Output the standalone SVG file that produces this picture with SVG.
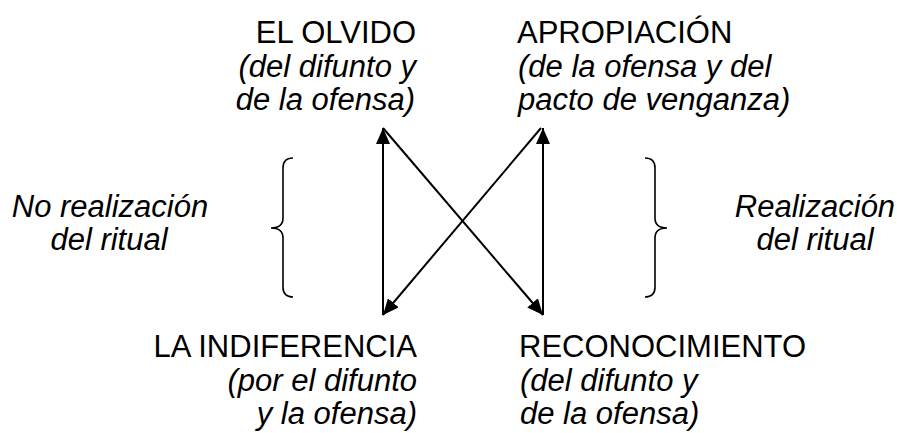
<svg xmlns="http://www.w3.org/2000/svg" width="897" height="433" viewBox="0 0 897 433">
<defs>
<style>
.t{font-family:"Liberation Sans",Arial,sans-serif;font-size:31px;fill:#000}
.i{font-style:italic}
.e{text-anchor:end}
.m{text-anchor:middle}
.ln{stroke:#000;stroke-width:2;fill:none}
.br{stroke:#000;stroke-width:1.6;fill:none}
</style>
<marker id="ah" viewBox="0 0 16 14" refX="16" refY="7" markerWidth="16" markerHeight="14" markerUnits="userSpaceOnUse" orient="auto">
<path d="M0,0 L16,7 L0,14 Z" fill="#000"/>
</marker>
</defs>
<rect width="897" height="433" fill="#fff"/>
<g id="olvido">
<text class="t e" x="416" y="43">EL OLVIDO</text>
<text class="t i e" x="416" y="77">(del difunto y</text>
<text class="t i e" x="415" y="110">de la ofensa)</text>
</g>
<g id="apropiacion">
<text class="t" x="517" y="43">APROPIACIÓN</text>
<text class="t i" x="518" y="77">(de la ofensa y del</text>
<text class="t i" x="518" y="110">pacto de venganza)</text>
</g>
<g id="indiferencia">
<text class="t e" x="417" y="357">LA INDIFERENCIA</text>
<text class="t i e" x="417" y="391">(por el difunto</text>
<text class="t i e" x="417" y="424">y la ofensa)</text>
</g>
<g id="reconocimiento">
<text class="t" x="519" y="357">RECONOCIMIENTO</text>
<text class="t i" x="520" y="391">(del difunto y</text>
<text class="t i" x="520" y="424">de la ofensa)</text>
</g>
<g id="no-realizacion">
<text class="t i m" x="110" y="217">No realización</text>
<text class="t i m" x="109" y="250">del ritual</text>
<path class="br" d="M293,158 Q283,158 283,168 L283,218 Q283,228 271,228 Q283,228 283,238 L283,287 Q283,297 293,297"/>
</g>
<g id="realizacion">
<text class="t i m" x="815" y="217">Realización</text>
<text class="t i m" x="815" y="250">del ritual</text>
<path class="br" d="M645,158 Q655,158 655,168 L655,218 Q655,228 667,228 Q655,228 655,238 L655,287 Q655,297 645,297"/>
</g>
<g id="connectors">
<line class="ln" x1="383" y1="315" x2="383" y2="128" marker-end="url(#ah)"/>
<line class="ln" x1="543" y1="315" x2="543" y2="128" marker-end="url(#ah)"/>
<line class="ln" x1="383" y1="128" x2="543" y2="315" marker-end="url(#ah)"/>
<line class="ln" x1="541" y1="128" x2="383" y2="315" marker-end="url(#ah)"/>
</g>
</svg>
